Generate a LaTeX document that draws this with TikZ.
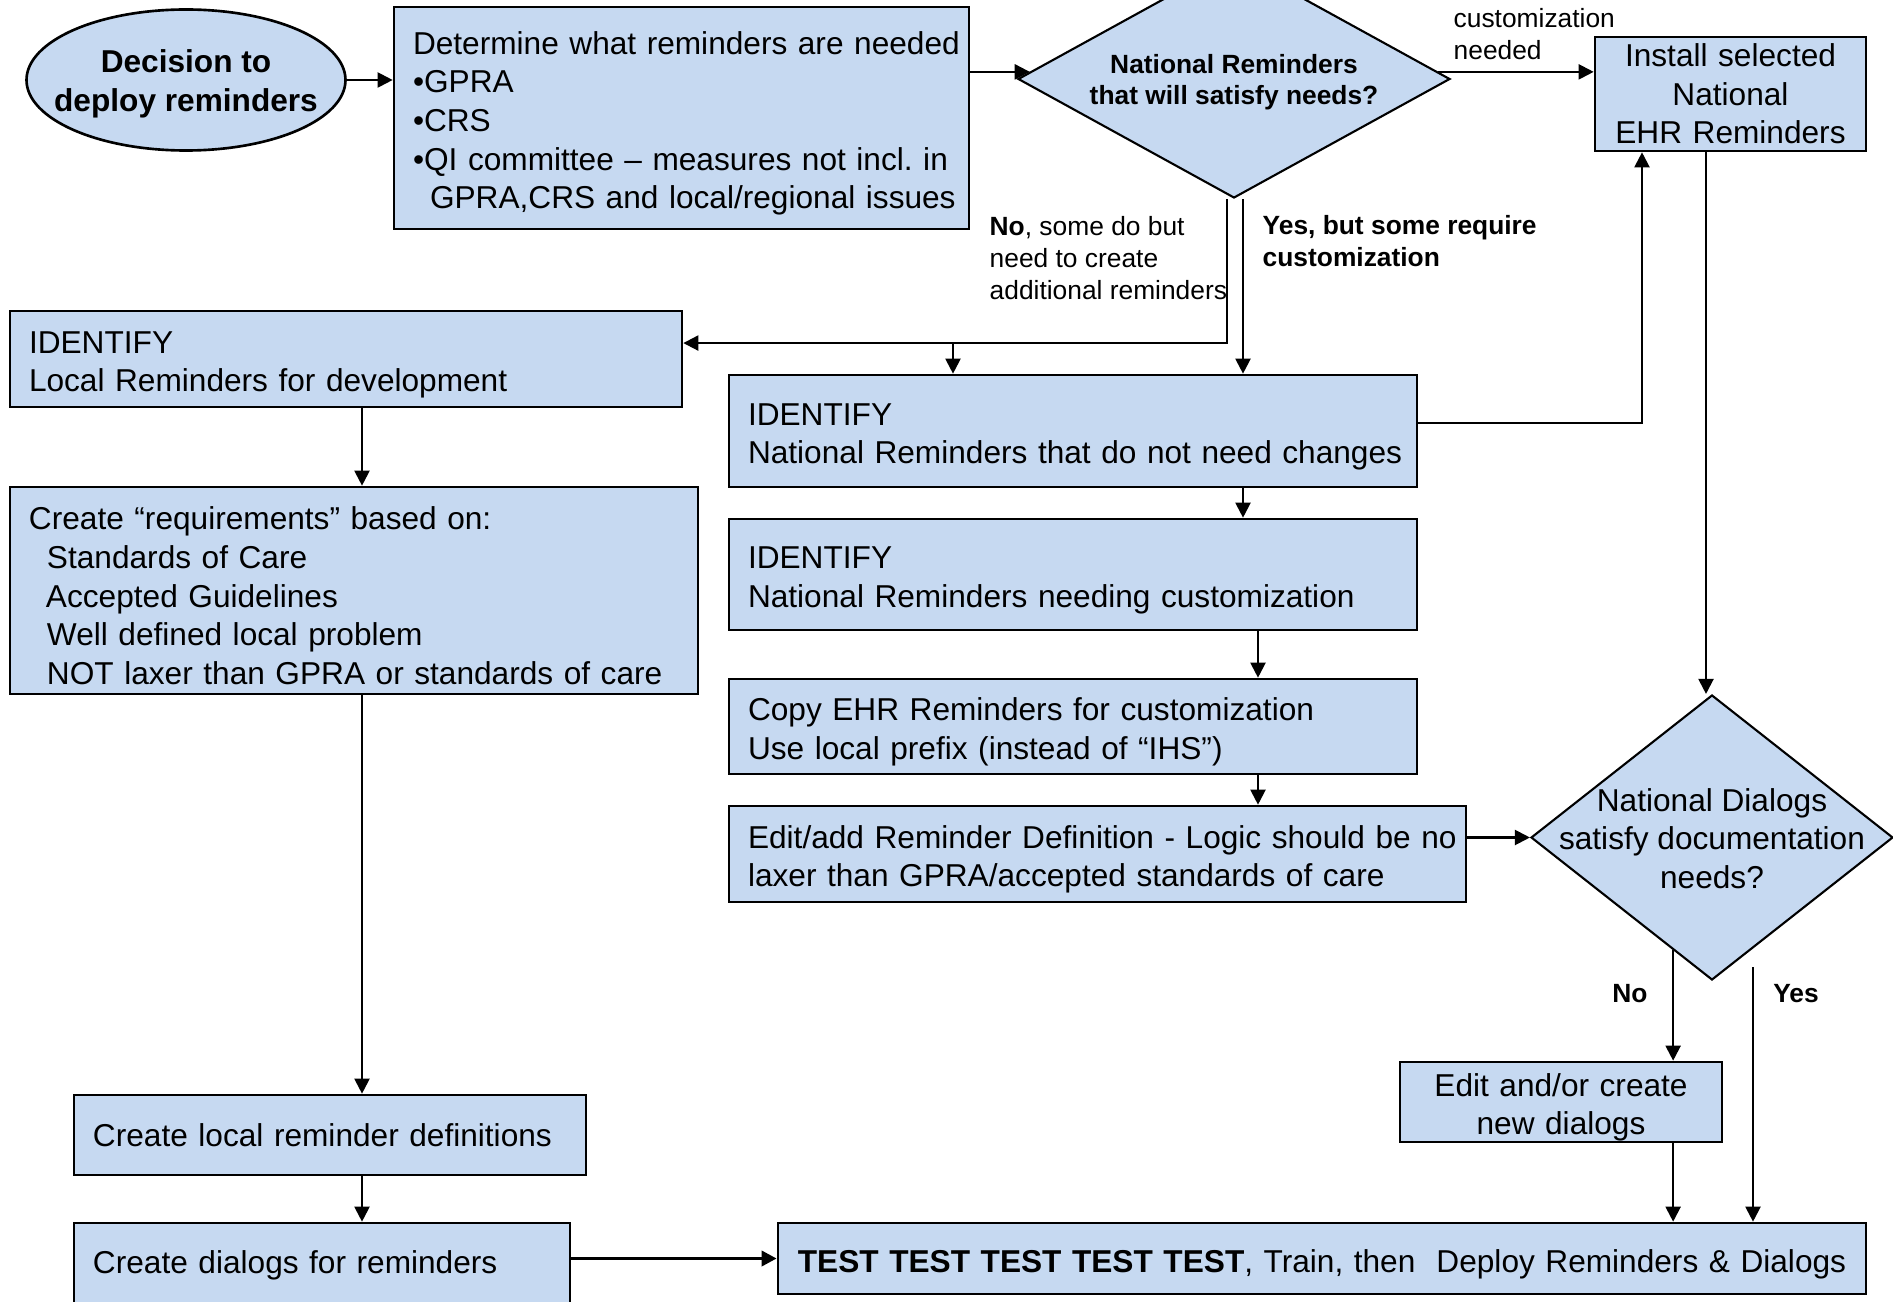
\documentclass[tikz,border=0pt]{standalone}
\usepackage{fontspec}
\setmainfont{Liberation Sans}
\usepackage{xcolor}
\usetikzlibrary{shapes.geometric,arrows.meta,calc}

\definecolor{boxblue}{RGB}{198,217,241}

\begin{document}
\begin{tikzpicture}[
  boxbase/.style={draw, line width=0.75pt, fill=boxblue, inner xsep=0.06cm, inner ysep=0pt,
    font=\fontsize{9}{11}\selectfont\frenchspacing},
  centbox/.style={boxbase, align=center},
  midbox/.style={boxbase, align=center, execute at begin node={\rule{0pt}{9.6pt}}},
  plainbox/.style={boxbase, align=left, execute at begin node={\leftskip=0.13cm\relax}},
  stepbox/.style={boxbase, align=left, execute at begin node={\leftskip=0.13cm\relax\rule{0pt}{9.6pt}}},
  decide/.style={diamond, draw, line width=0.6pt, fill=boxblue, inner sep=0pt},
  lbl/.style={inner sep=0pt, font=\fontsize{7.5}{9.1}\selectfont},
  arr/.style={line width=0.6pt, -{Triangle[length=4.3pt,width=4.3pt]}}
]

% Frame of the page
\useasboundingbox (0,0) rectangle (18.93,-13.02);
\clip (0,0) rectangle (18.93,-13.02);

% Top row
\node[ellipse, draw, line width=0.75pt, fill=boxblue, minimum width=3.19cm, minimum height=1.41cm,
  inner sep=0pt] (dec) at (1.86,-0.80) {};
\node[align=center, inner sep=0pt, font=\fontsize{9}{11}\selectfont\bfseries] (dectxt)
  at ([yshift=-0.035cm]dec.center) {Decision to\\deploy reminders};
\node[stepbox, text width=5.63cm, minimum height=2.22cm] (det) at (6.815,-1.18)
  {Determine what reminders are needed\\
   \textbullet GPRA\\
   \textbullet CRS\\
   \textbullet QI committee -- measures not incl. in\\
   \hspace*{0.17cm}GPRA,CRS and local/regional issues};
\node[decide, minimum width=4.32cm, minimum height=2.38cm] (dm1) at (12.34,-0.79) {};
\node[align=center, inner sep=0pt, font=\fontsize{7.5}{8.9}\selectfont\bfseries] (dm1txt)
  at ([yshift=-0.035cm]dm1.center) {National Reminders\\that will satisfy needs?};
\node[centbox, text width=2.59cm, minimum height=1.14cm] (inst) at (17.305,-0.94)
  {Install selected\\National\\EHR Reminders};

% Local branch
\node[stepbox, text width=6.60cm, minimum height=0.96cm] (idloc) at (3.46,-3.59)
  {IDENTIFY\\Local Reminders for development};
\node[stepbox, text width=6.76cm, minimum height=2.07cm] (req) at (3.54,-5.905)
  {Create “requirements” based on:\\
   \hspace*{0.18cm}Standards of Care\\
   \hspace*{0.17cm}Accepted Guidelines\\
   \hspace*{0.18cm}Well defined local problem\\
   \hspace*{0.18cm}NOT laxer than GPRA or standards of care};
\node[plainbox, text width=5.00cm, minimum height=0.80cm] (crloc) at (3.30,-11.35)
  {Create local reminder definitions};
\node[plainbox, text width=4.84cm, minimum height=0.84cm] (crdia) at (3.22,-12.65)
  {Create dialogs for reminders};

% National branch
\node[stepbox, text width=6.76cm, minimum height=1.12cm] (idnat) at (10.73,-4.31)
  {IDENTIFY\\National Reminders that do not need changes};
\node[stepbox, text width=6.76cm, minimum height=1.11cm] (idcus) at (10.73,-5.745)
  {IDENTIFY\\National Reminders needing customization};
\node[stepbox, text width=6.76cm, minimum height=0.95cm] (copy) at (10.73,-7.265)
  {Copy EHR Reminders for customization\\Use local prefix (instead of “IHS”)};
\node[stepbox, text width=7.25cm, minimum height=0.96cm] (edit) at (10.975,-8.54)
  {Edit/add Reminder Definition - Logic should be no\\laxer than GPRA/accepted standards of care};
\node[decide, minimum width=3.62cm, minimum height=2.85cm] (dm2) at (17.12,-8.375) {};
\node[align=center, inner sep=0pt, font=\fontsize{9}{11}\selectfont] (dm2txt)
  at ([yshift=-0.01cm]dm2.center) {National Dialogs\\satisfy documentation\\needs?};
\node[midbox, text width=3.10cm, minimum height=0.80cm] (newdia) at (15.61,-11.02)
  {Edit and/or create\\new dialogs};
\node[midbox, text width=10.76cm, minimum height=0.71cm] (test) at (13.22,-12.585)
  {\textbf{TEST TEST TEST TEST TEST}, Train, then\ \ Deploy Reminders \& Dialogs};

% Labels on the branches
\node[lbl, anchor=west, align=left] (custlbl) at (14.53,-0.34) {customization\\needed};
\node[lbl, anchor=west, align=left] (nolbl) at (9.89,-2.58)
  {\textbf{No}, some do but\\need to create\\additional reminders};
\node[lbl, anchor=west, align=left, font=\fontsize{7.5}{9.1}\selectfont\bfseries] (yeslbl) at (12.62,-2.415)
  {Yes, but some require\\customization};
\node[lbl, font=\fontsize{7.5}{9.1}\selectfont\bfseries] (dnolbl) at (16.30,-9.94) {No};
\node[lbl, font=\fontsize{7.5}{9.1}\selectfont\bfseries] (dyeslbl) at (17.96,-9.94) {Yes};

% Helper points
\coordinate (noTop) at ([xshift=-0.07cm]dm1.south);
\coordinate (yesTop) at ([xshift=0.09cm]dm1.south);
\coordinate (noTurn) at ($(noTop)+(0,-1.44)$);
\coordinate (lx) at ([xshift=0.16cm]idloc.south);
\coordinate (dyesTop) at ($(dm2.center)+(0.41,-1.295)$);

% Top row arrows
\draw[arr] (dec.east) -- (det.west |- dec.east);
\draw[arr] (det.east |- dm1.178) -- (dm1.178);
\draw[arr] (dm1.2) -- (inst.west |- dm1.2);

% Out of the first decision
\draw[arr] (noTop) -- (noTurn) -- (idloc.east |- noTurn);
\draw[arr] ([xshift=-1.20cm]idnat.north |- noTurn) -- ([xshift=-1.20cm]idnat.north);
\draw[arr] (yesTop) -- (yesTop |- idnat.north);

% National chain
\draw[arr] (yesTop |- idnat.south) -- (yesTop |- idcus.north);
\draw[arr] ([xshift=1.85cm]idcus.south) -- ([xshift=1.85cm]copy.north);
\draw[arr] ([xshift=1.85cm]copy.south) -- ([xshift=1.85cm]copy.south |- edit.north);
\draw[arr] (edit.east |- dm2.west) -- (dm2.west);
\draw[arr] ([yshift=0.08cm]idnat.east) -| ([xshift=-0.885cm]inst.south);
\draw[arr] ([xshift=-0.245cm]inst.south) -- ([xshift=-0.245cm]inst.south |- dm2.north);

% Dialog decision
\draw[arr] (dm2.251) -- (dm2.251 |- newdia.north);
\draw[arr] (newdia.south -| dm2.251) -- (test.north -| dm2.251);
\draw[arr] (dyesTop) -- (dyesTop |- test.north);

% Local chain
\draw[arr] (lx) -- (lx |- req.north);
\draw[arr] (req.south -| lx) -- (crloc.north -| lx);
\draw[arr] (crloc.south -| lx) -- (crdia.north -| lx);
\draw[arr, line width=1pt] (crdia.east |- test.west) -- (test.west);

\end{tikzpicture}
\end{document}
